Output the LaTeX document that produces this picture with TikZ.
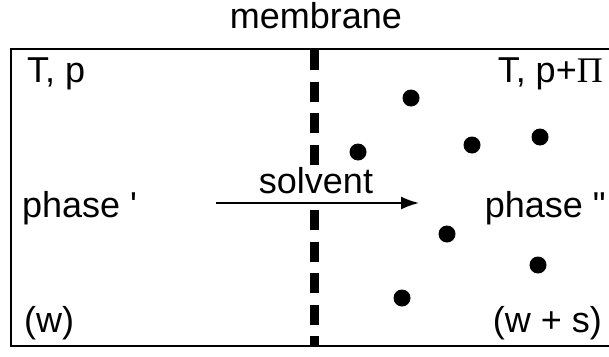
\documentclass[tikz,border=0pt]{standalone}
\usepackage{fontspec}
\setmainfont{Liberation Sans}
\newfontfamily\serifgr{Liberation Serif}
\newfontfamily\plainsans{Liberation Sans}
\usetikzlibrary{arrows.meta}
\tikzset{
  lbl/.style={inner sep=0pt, font=\fontsize{36}{42}\selectfont},
  mol/.style={circle, fill=black, inner sep=0pt, minimum size=17pt},
  membr/.style={line width=9pt, dash pattern=on 20pt off 11.5pt},
  flow/.style={line width=1.8pt, -{Latex[length=18pt,width=13pt]}}
}
\begin{document}
\begin{tikzpicture}[x=1pt,y=-1pt]
\useasboundingbox (0,0) rectangle (609,356);
% vessel (right wall lies outside the picture)
\draw[line width=2.5pt] (625,49) -- (11,49) -- (11,346) -- (625,346);
% membrane
\coordinate (m1) at (314,50);
\coordinate (m2) at (314,166);
\coordinate (m3) at (314,210);
\coordinate (m4) at (314,347);
\draw[membr] (m1) -- (m2);
\draw[membr] (m3) -- (m4);
\node[lbl, anchor=base] (mem) at (316,28) {membrane};
% labels
\node[lbl, anchor=base west] (tp1) at (27,82) {T, p};
\node[lbl, anchor=base east] (tp2) at (603,82) {T, p+{\serifgr Π}};
\node[lbl, anchor=base west] (ph1) at (22,217) {phase {\plainsans '}};
\node[lbl, anchor=base east] (ph2) at (606,217) {phase {\plainsans "}};
\node[lbl, anchor=base west] (w1) at (24,332) {(w)};
\node[lbl, anchor=base east] (w2) at (602,332) {(w + s)};
% solvent flow
\coordinate (a1) at (216,203);
\coordinate (a2) at (419,203);
\draw[flow] (a1) -- (a2);
\node[lbl, anchor=base] (solv) at (316,193) {solvent};
% solute molecules
\node[mol] (d1) at (411,98) {};
\node[mol] (d2) at (358,152) {};
\node[mol] (d3) at (472,145) {};
\node[mol] (d4) at (540,137) {};
\node[mol] (d5) at (447,234) {};
\node[mol] (d6) at (538,265) {};
\node[mol] (d7) at (402,298) {};
\end{tikzpicture}
\end{document}
